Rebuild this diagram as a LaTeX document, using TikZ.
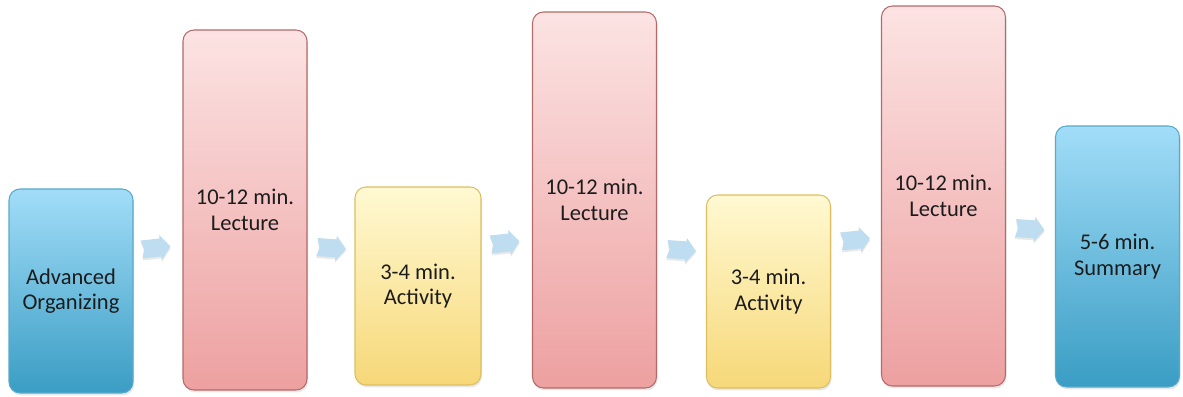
\documentclass[tikz,border=0pt]{standalone}
\usepackage{fontspec}
\setmainfont{Carlito}
\usepackage{tikz}
\usetikzlibrary{shadows}

\definecolor{bluetop}{HTML}{A2DDF8}
\definecolor{bluebot}{HTML}{3A9DC4}
\definecolor{blueline}{HTML}{58AACB}
\definecolor{redtop}{HTML}{FCE3E3}
\definecolor{redbot}{HTML}{EDA0A0}
\definecolor{redline}{HTML}{B46A6A}
\definecolor{yeltop}{HTML}{FFF9D2}
\definecolor{yelbot}{HTML}{F6D878}
\definecolor{yelline}{HTML}{DDBE62}
\definecolor{arrowfill}{HTML}{BEDDF0}
\definecolor{txt}{HTML}{1C1C1C}

\tikzset{
  stagebox/.style={draw, rounded corners=0.22cm, line width=0.6pt,
    minimum width=2.48cm, align=center, text=txt,
    font=\fontsize{12.8}{14.4}\selectfont,
    drop shadow={opacity=0.18, shadow xshift=0.02cm, shadow yshift=-0.05cm}},
  bluebox/.style={stagebox, draw=blueline, top color=bluetop, bottom color=bluebot},
  redbox/.style={stagebox, draw=redline, top color=redtop, bottom color=redbot},
  yelbox/.style={stagebox, draw=yelline, top color=yeltop, bottom color=yelbot},
  flowarrow/.pic={
    \fill[gray!30, opacity=0.6, yshift=-0.04cm]
      (-0.28,0.18) -- (0.10,0.18) -- (0.10,0.25) -- (0.30,0.0)
      -- (0.10,-0.25) -- (0.10,-0.18) -- (-0.28,-0.18) -- (-0.23,0) -- cycle;
    \fill[arrowfill]
      (-0.28,0.18) -- (0.10,0.18) -- (0.10,0.25) -- (0.30,0.0)
      -- (0.10,-0.25) -- (0.10,-0.18) -- (-0.28,-0.18) -- (-0.23,0) -- cycle;
  }
}

\begin{document}
\begin{tikzpicture}
\useasboundingbox (0,0) rectangle (23.66,7.94);

% the seven stages
\node[bluebox, minimum height=4.08cm] (org)  at (1.42,2.12)  {Advanced\\Organizing};
\node[redbox,  minimum height=7.20cm] (lec1) at (4.90,3.74)  {10-12 min.\\Lecture};
\node[yelbox,  minimum height=3.96cm, minimum width=2.52cm] (act1) at (8.36,2.22) {3-4 min.\\Activity};
\node[redbox,  minimum height=7.52cm] (lec2) at (11.89,3.94) {10-12 min.\\Lecture};
\node[yelbox,  minimum height=3.86cm] (act2) at (15.37,2.11) {3-4 min.\\Activity};
\node[redbox,  minimum height=7.60cm] (lec3) at (18.87,4.02) {10-12 min.\\Lecture};
\node[bluebox, minimum height=5.22cm] (summ) at (22.35,2.81) {5-6 min.\\Summary};

% block arrows in the gaps
\pic[rotate=6]  at (3.11,2.98)  {flowarrow};
\pic[rotate=-4] at (6.62,2.98)  {flowarrow};
\pic[rotate=6]  at (10.09,3.08) {flowarrow};
\pic[rotate=-4] at (13.62,2.94) {flowarrow};
\pic[rotate=6]  at (17.10,3.14) {flowarrow};
\pic[rotate=-4] at (20.59,3.36) {flowarrow};
\end{tikzpicture}
\end{document}
